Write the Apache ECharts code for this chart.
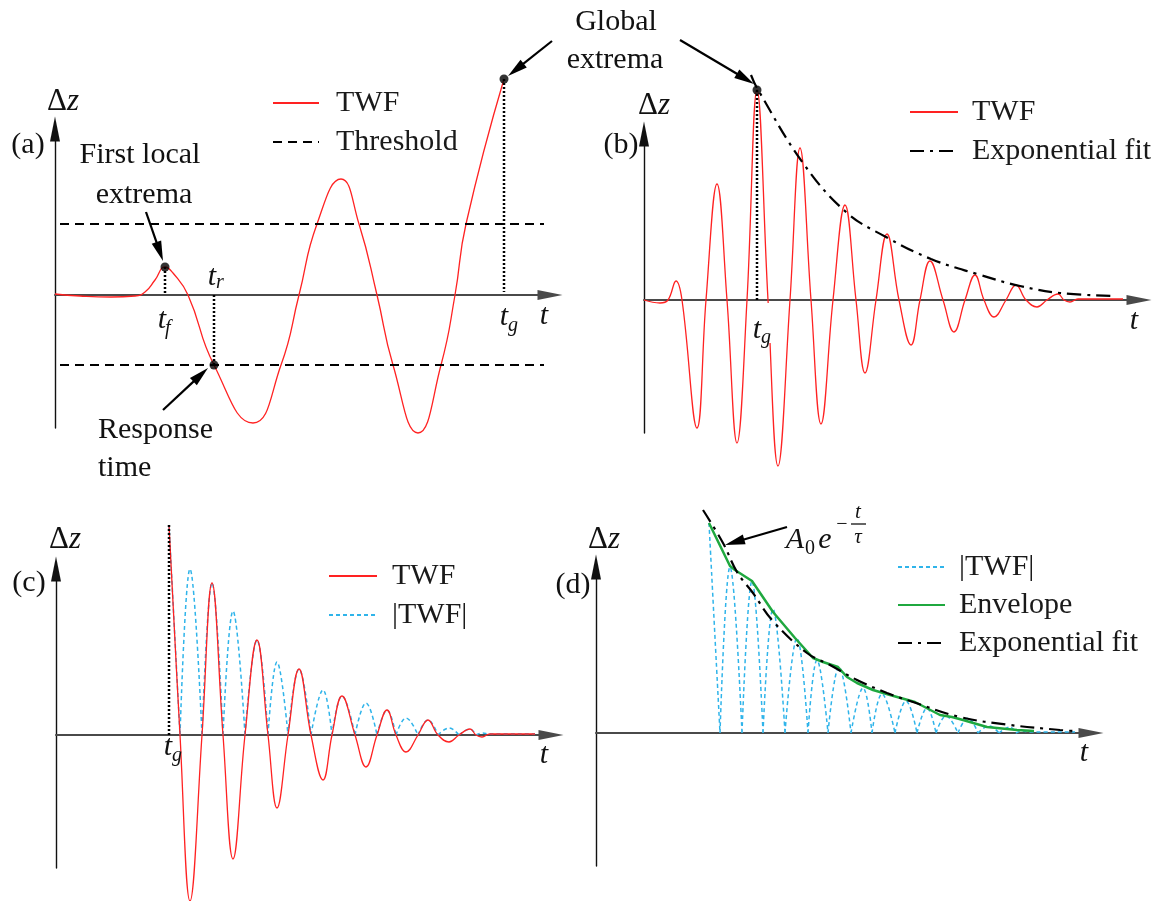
<!DOCTYPE html>
<html><head><meta charset="utf-8">
<script src="https://cdn.jsdelivr.net/npm/echarts@6/dist/echarts.min.js"></script>
<style>html,body{margin:0;padding:0;background:#fff}#c{width:1171px;height:901px}</style>
</head><body><div id="c"></div>
<script>
// ---------------- data (t and Δz in arbitrary units) ----------------
// panel (a): TWF with threshold (includes the points where the curve crosses the thresholds)
const twfA = [[0,1],[25,-1],[56,-2],[80,-1],[90,3],[100,15],[110,28],[118,22],[133,0],[159,-70],[198,-128],[226,-70],[244,0],[262,71],[286,116],[304,71],[322,0],[338,-70],[363,-138],[386,-70],[400,0],[411,71],[449,216]];
const thresholdLevelsA = [71, -70];
const thresholdSpanA = [5, 489];
const keyPointsA = [[110,28],[159,-70],[449,216]];   // first local extrema, response time, global extrema

// panel (b): TWF with exponential fit (panel (c)/(d) use the part after the global extrema)
const twfB = [[0,0],[16,-3],[24,0],[32,19],[38,0],[53,-128],[62,0],[73,116],[83,0],[93,-143],[103,0],[113,210],[124,0],[134,-166],[146,0],[156,152],[167,0],[177,-124],[189,0],[201,95],[212,0],[221,-73],[232,0],[243,66],[255,0],[267,-45],[276,0],[286,39],[299,0],[310,-32],[321,0],[331,25],[340,0],[350,-17],[362,0],[372,15],[382,0],[393,-7],[403,0],[414,6],[420,0],[426,-2],[434,1],[479,1]];
const expFitB = [[107,225],[113,212],[159,137],[202,88],[242,63],[287,41],[333,26],[376,14],[416,7],[469,4]];

// panel (d): envelope and exponential fit
const envelopeD = [[113,210],[134,167],[139,163],[156,152],[177,121],[199,95],[217,75],[227,71],[242,66],[251,56],[261,50],[277,43],[294,38],[319,31],[344,18],[356,16],[367,13],[391,6],[421,3],[438,2]];
const expFitD = [[107,223],[127,190],[141,161],[157,140],[176,113],[211,80],[234,68],[261,53],[291,40],[314,32],[364,16],[414,8],[464,3],[477,2]];

// derived: waveform from the global extrema on, and its absolute value (lobes split at zeros)
const gIdx = twfB.reduce((b, p, i) => (p[1] > twfB[b][1] ? i : b), 0);
const twfC = twfB.slice(gIdx);
const absTwf = [];
twfC.forEach((p, i) => {
  if (p[1] === 0 && i > 0 && i < twfC.length - 1) { absTwf.push([p[0], 0], [p[0], '-'], [p[0], 0]); }
  else absTwf.push([p[0], Math.abs(p[1])]);
});
const tgPoint = twfB[gIdx];

// ---------------- layout ----------------
const FONT = 'Liberation Serif';
const panels = [{ox:55,oy:295},{ox:644,oy:300},{ox:56,oy:735},{ox:596,oy:733}];
const RED = '#ff2222', CYAN = '#2fb4ea', GREEN = '#1fa83f';
const chart = echarts.init(document.getElementById('c'));

const grids = panels.map(p => ({left:p.ox, top:p.oy-166, width:495, height:299}));
const axisCommon = {axisTick:{show:false}, axisLabel:{show:false}, splitLine:{show:false}};
const xAxes = panels.map((p,i) => Object.assign({type:'value', gridIndex:i, min:0, max:495,
  axisLine:{show:true, onZero:true, symbol:['none','triangle'], symbolSize:[10,25], lineStyle:{color:'#4a4a4a', width:2}}}, axisCommon));
const yAxes = panels.map((p,i) => Object.assign({type:'value', gridIndex:i, min:-133, max:166,
  axisLine:{show:true, onZero:true, symbol:['none','triangle'], symbolSize:[10,25], lineStyle:{color:'#111', width:1.4}}}, axisCommon));

function line(name, i, data, ls, extra) {
  return Object.assign({name, type:'line', xAxisIndex:i, yAxisIndex:i, data, symbol:'none', clip:false, silent:true,
    lineStyle:ls, itemStyle:{color:ls.color}, z:3}, extra||{});
}
const twfStyle = {color:RED, width:1.3};
const expStyle = {color:'#000', width:2.2, type:[14,6,3,6]};
const absStyle = {color:CYAN, width:1.5, type:[4,3]};
const SM = 0.42;

const series = [
  line('TWF', 0, twfA, twfStyle, {smooth:0.5}),
  line('Threshold', 0, [[thresholdSpanA[0], thresholdLevelsA[0]], [thresholdSpanA[1], thresholdLevelsA[0]]], {color:'#000', width:2, type:[9,6]}),
  line('Threshold', 0, [[thresholdSpanA[0], thresholdLevelsA[1]], [thresholdSpanA[1], thresholdLevelsA[1]]], {color:'#000', width:2, type:[9,6]}),
  {type:'scatter', xAxisIndex:0, yAxisIndex:0, data:keyPointsA, symbolSize:9, itemStyle:{color:'#000'}, z:6, clip:false, silent:true},

  line('TWF', 1, twfB, twfStyle, {smooth:SM}),
  line('Exponential fit', 1, expFitB, expStyle, {smooth:0.4, z:4}),
  {type:'scatter', xAxisIndex:1, yAxisIndex:1, data:[tgPoint], symbolSize:9, itemStyle:{color:'#000'}, z:6, clip:false, silent:true},

  line('|TWF|', 2, absTwf, absStyle, {smooth:SM, z:2}),
  line('TWF', 2, twfC, twfStyle, {smooth:SM}),

  line('|TWF|', 3, absTwf, absStyle, {smooth:SM, z:2}),
  line('Envelope', 3, envelopeD, {color:GREEN, width:2.5}, {z:3}),
  line('Exponential fit', 3, expFitD, expStyle, {smooth:0.4, z:4})
];

const legText = {fontFamily:FONT, fontSize:30, lineHeight:30, color:'#1a1a1a'};
function legend(left, top, names, w, pad) {
  return {left, top, orient:'vertical', data:names, itemWidth:w, itemHeight:20, itemGap:9, padding:0,
    selectedMode:false, itemStyle:{color:'rgba(0,0,0,0)', borderColor:'rgba(0,0,0,0)', borderWidth:0, opacity:0},
    textStyle:Object.assign({padding:[0,0,0,pad]}, legText)};
}

chart.setOption({
  animation:false,
  textStyle:{fontFamily:FONT},
  grid:grids, xAxis:xAxes, yAxis:yAxes, series,
  legend:[
    legend(272, 88, ['TWF','Threshold'], 46, 12),
    legend(909, 97, ['TWF','Exponential fit'], 48, 9),
    legend(328, 561, ['TWF','|TWF|'], 48, 10),
    Object.assign(legend(897, 552, ['|TWF|','Envelope','Exponential fit'], 47, 9), {itemGap:8})
  ]
});

// ---------------- annotations (anchored to data coordinates) ----------------
const g = [];
const P = (i, pt) => chart.convertToPixel({gridIndex:i}, pt);
function txt(i, at, text, o) {
  o = o || {};
  const [x, y] = o.px ? at : P(i, at);
  g.push({type:'text', x, y, z:100, silent:true, style:{text, fontFamily:FONT, fontSize:o.size||30,
    fontStyle:o.italic?'italic':'normal', fill:'#111', align:o.align||'center', verticalAlign:'middle'}});
  return [x, y];
}
function subTxt(i, at, main, sub, dx, dy) {
  const [x, y] = txt(i, at, main, {italic:true});
  txt(i, [x + (dx||4), y + (dy||10)], sub, {px:true, italic:true, size:20, align:'left'});
}
function deltaZ(i, at) {
  const [x, y] = P(i, at);
  g.push({type:'text', x, y, z:100, silent:true, style:{text:'{a|Δ}{b|z}', align:'center', verticalAlign:'middle',
    rich:{a:{fontFamily:FONT, fontSize:31, fill:'#111'}, b:{fontFamily:FONT, fontSize:31, fontStyle:'italic', fill:'#111'}}}});
}
function arrow(i, from, tip) {
  const a = P(i, from), b = P(i, tip);
  const dx = b[0]-a[0], dy = b[1]-a[1], len = Math.hypot(dx, dy), ux = dx/len, uy = dy/len;
  const L = 20, W = 10, bx = b[0]-ux*L, by = b[1]-uy*L;
  g.push({type:'line', z:100, silent:true, shape:{x1:a[0], y1:a[1], x2:bx+ux*3, y2:by+uy*3}, style:{stroke:'#000', lineWidth:2.2}});
  g.push({type:'polygon', z:100, silent:true, shape:{points:[b, [bx-uy*W/2, by+ux*W/2], [bx+uy*W/2, by-ux*W/2]]}, style:{fill:'#000'}});
}
function dotted(i, from, to) {
  const a = P(i, from), b = P(i, to);
  g.push({type:'line', z:90, silent:true, shape:{x1:a[0], y1:a[1], x2:b[0], y2:b[1]}, style:{stroke:'#000', lineWidth:2.5, lineDash:[2,2]}});
}

// (a)
txt(0, [-27,150], '(a)');
deltaZ(0, [8,193]);
txt(0, [489,-21], 't', {italic:true});
subTxt(0, [107,-25], 't', 'f', 3, 9);
subTxt(0, [157,18], 't', 'r', 4, 6);
subTxt(0, [449,-22], 't', 'g', 4, 9);
txt(0, [85,140], 'First local');
txt(0, [89,100], 'extrema');
txt(0, [43,-135], 'Response', {align:'left'});
txt(0, [43,-173], 'time', {align:'left'});
arrow(0, [91,83], [108,34]);
arrow(0, [108,-115], [153,-73]);
arrow(0, [497,254], [453,219]);
dotted(0, keyPointsA[0], [keyPointsA[0][0], 0]);
dotted(0, keyPointsA[1], [keyPointsA[1][0], 0]);
dotted(0, keyPointsA[2], [keyPointsA[2][0], 3]);

// (b)
txt(1, [-23,155], '(b)');
deltaZ(1, [10,194]);
txt(1, [490,-21], 't', {italic:true});
(function(){ const a = P(1,[106,-3]), b = P(1,[129,-43]);
  g.push({type:'rect', z:80, silent:true, shape:{x:a[0], y:a[1], width:b[0]-a[0], height:b[1]-a[1]}, style:{fill:'#fff'}}); })();
subTxt(1, [113,-30], 't', 'g', 4, 8);
txt(1, [-28,278], 'Global');
txt(1, [-29,240], 'extrema');
arrow(1, [36,260], [110,216]);
dotted(1, tgPoint, [tgPoint[0], 0]);

// (c)
txt(2, [-27,152], '(c)');
deltaZ(2, [9,195]);
txt(2, [488,-20], 't', {italic:true});
subTxt(2, [112,-12], 't', 'g', 4, 9);
dotted(2, tgPoint, [tgPoint[0], 0]);

// (d)
txt(3, [-23,148], '(d)');
deltaZ(3, [8,193]);
txt(3, [488,-20], 't', {italic:true});
txt(3, [199,193], 'A', {italic:true});
txt(3, [214,184], '0', {size:20});
txt(3, [229,193], 'e', {italic:true});
txt(3, [246,208], '−', {size:20});
txt(3, [262,221], 't', {italic:true, size:21});
txt(3, [262,196], 'τ', {italic:true, size:21});
(function(){ const a = P(3,[255,209]), b = P(3,[270,209]);
  g.push({type:'line', z:100, silent:true, shape:{x1:a[0], y1:a[1], x2:b[0], y2:b[1]}, style:{stroke:'#111', lineWidth:1.3}}); })();
arrow(3, [191,206], [129,188]);

chart.setOption({graphic:g});
</script>
</body></html>
